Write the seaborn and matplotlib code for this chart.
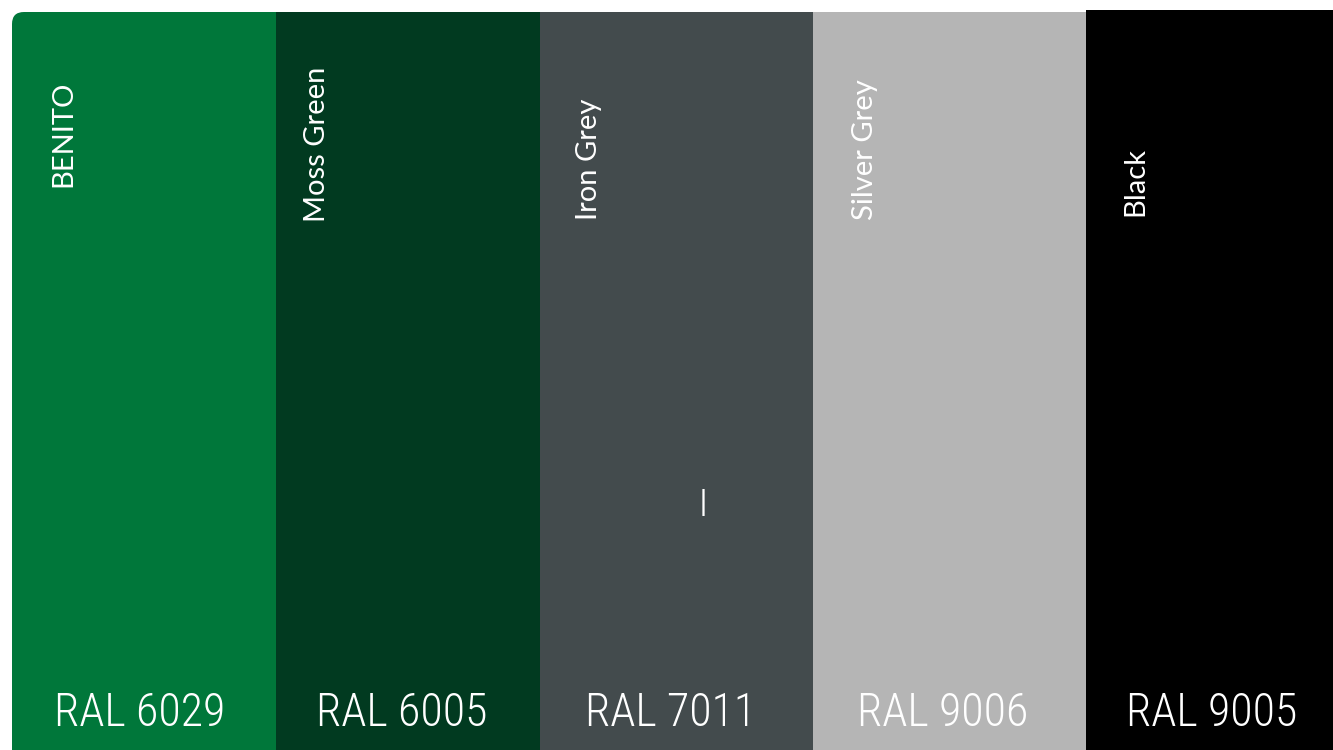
import matplotlib
matplotlib.use("Agg")
import matplotlib.pyplot as plt
import matplotlib.transforms as mtransforms
from matplotlib import font_manager
from matplotlib.patches import FancyBboxPatch
import seaborn as sns

# ---- data ----
names = ["BENITO", "Moss Green", "Iron Grey", "Silver Grey", "Black"]
codes = ["RAL 6029", "RAL 6005", "RAL 7011", "RAL 9006", "RAL 9005"]
swatch_colors = ["#00773A", "#013A20", "#434B4D", "#B5B5B5", "#000000"]
heights = [738, 738, 738, 738, 740]  # swatch height in px (black one is 2px taller)

# ---- layout (pixels) ----
W, H = 1333, 750
edges = [12, 276, 540, 813, 1086, 1333]
name_baseline_x = [71, 325, 597, 873, 1143]
name_start_y = [187, 222, 220, 220, 216]
code_center_x = [140, 402, 671, 943, 1212]
code_baseline_y = 726.5

# pick a narrow face for the RAL codes if one is installed
available = {f.name for f in font_manager.fontManager.ttflist}
code_font, code_size = "Lato", 29.5
for cand, size in [("Roboto Condensed", 33), ("Liberation Sans Narrow", 34),
                   ("Open Sans Condensed", 32)]:
    if cand in available:
        code_font, code_size = cand, size
        break

sns.set_theme(style="white")
plt.rcParams["font.family"] = ["Lato", "DejaVu Sans"]

fig = plt.figure(figsize=(W / 100, H / 100), dpi=100)
ax = fig.add_axes([edges[0] / W, 0, (W - edges[0]) / W, 1])

sns.barplot(x=names, y=heights, hue=names, palette=swatch_colors,
            legend=False, width=1, saturation=1, ax=ax, linewidth=0)

ax.set_xlim(-0.5, 4.5)
ax.set_ylim(0, H)
ax.set_axis_off()

def px_to_u(px):
    return -0.5 + (px - edges[0]) / (W - edges[0]) * 5

def ypx(py):
    return H - py

patches = sorted(ax.patches, key=lambda p: p.get_x())
for i, p in enumerate(patches):
    x0, x1 = px_to_u(edges[i]), px_to_u(edges[i + 1])
    p.set_x(x0)
    p.set_width(x1 - x0 + (0.002 if i < 4 else 0))
    p.set_edgecolor("none")

# rounded top-left corner of the first swatch
clip = FancyBboxPatch((edges[0], -30), 320, heights[0] + 30,
                      boxstyle="round,pad=0,rounding_size=12",
                      transform=mtransforms.IdentityTransform(),
                      facecolor="none", edgecolor="none")
fig.add_artist(clip)
clip.set_visible(False)
patches[0].set_clip_path(clip)

for i in range(5):
    ax.text(px_to_u(name_baseline_x[i]), ypx(name_start_y[i]), names[i],
            rotation=90, rotation_mode="anchor", ha="left", va="baseline",
            color="white", fontsize=21, family=["Lato", "DejaVu Sans"])
    ax.text(px_to_u(code_center_x[i]), ypx(code_baseline_y), codes[i],
            ha="center", va="baseline", color="white", fontsize=code_size,
            fontweight="light", family=[code_font, "DejaVu Sans"])

# small text-cursor mark visible on the Iron Grey swatch
ax.text(px_to_u(703), ypx(503), "|", ha="center", va="center",
        color="white", fontsize=19, family=["DejaVu Sans"])

fig.savefig("out.png", dpi=100, facecolor="white")
